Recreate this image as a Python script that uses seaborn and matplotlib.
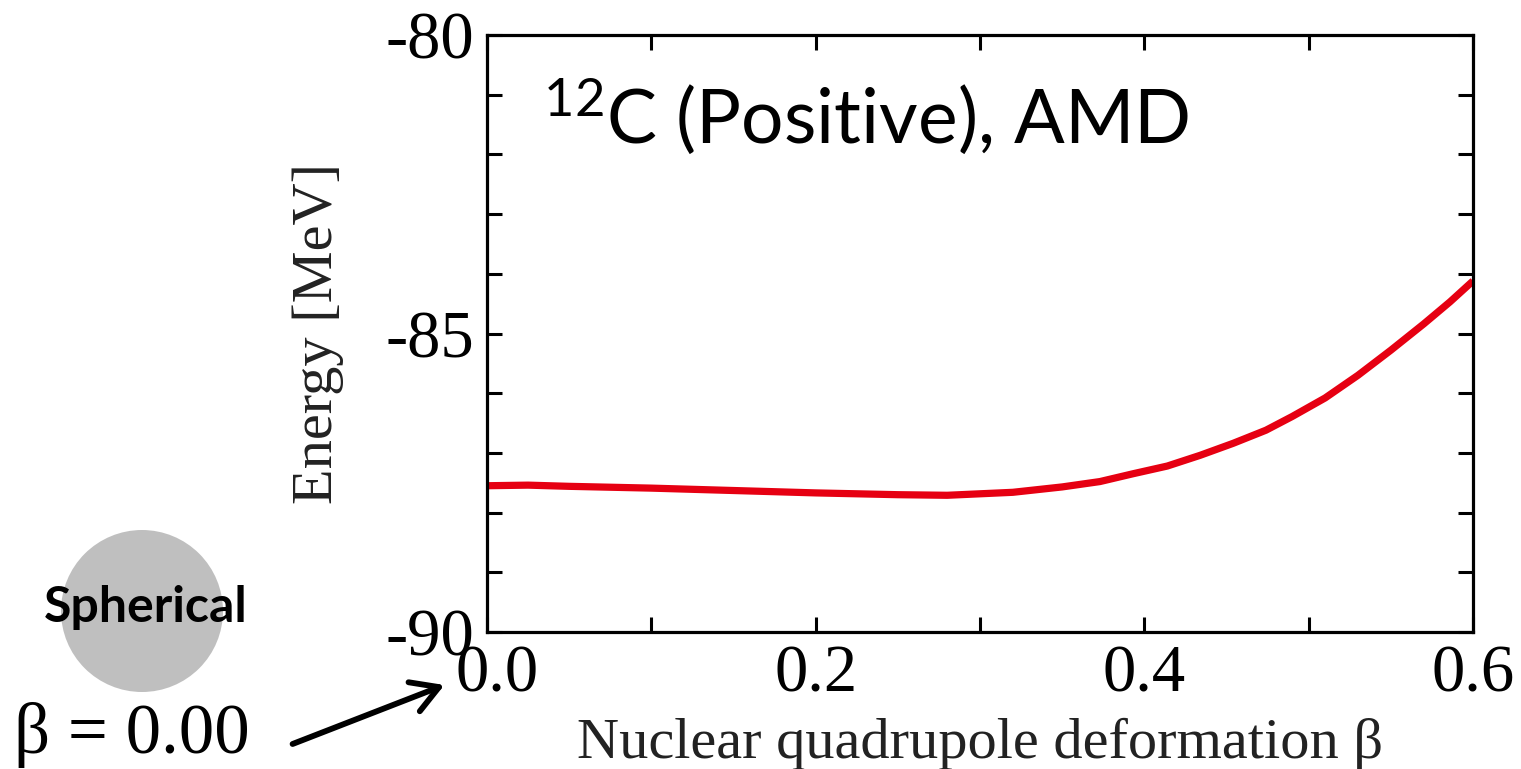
import numpy as np
import pandas as pd
import matplotlib
matplotlib.use("Agg")
import matplotlib.pyplot as plt
from matplotlib.ticker import MultipleLocator
from matplotlib.patches import Circle, FancyArrowPatch
from matplotlib.transforms import ScaledTranslation
import seaborn as sns

# ---- data ----
beta = [0.00, 0.025, 0.05, 0.10, 0.15, 0.20, 0.25, 0.28, 0.32, 0.35, 0.373,
        0.393, 0.414, 0.434, 0.454, 0.474, 0.49, 0.51, 0.53, 0.55, 0.57,
        0.586, 0.60]
energy = [-87.55, -87.54, -87.56, -87.59, -87.63, -87.67, -87.70, -87.71,
          -87.66, -87.57, -87.48, -87.35, -87.22, -87.04, -86.84, -86.62,
          -86.39, -86.08, -85.70, -85.28, -84.84, -84.47, -84.12]
x_ticks = [0.0, 0.2, 0.4, 0.6]
x_tick_labels = ["0.0", "0.2", "0.4", "0.6"]
y_ticks = [-90, -85, -80]
y_tick_labels = ["-90", "-85", "-80"]
title_text = "$^{12}$C (Positive), AMD"
x_label = "Nuclear quadrupole deformation β"
y_label = "Energy [MeV]"

df = pd.DataFrame({"beta": beta, "energy": energy})

sns.set_theme(style="ticks")
plt.rcParams["font.family"] = ["Liberation Serif", "DejaVu Serif"]
plt.rcParams["mathtext.default"] = "regular"

W, H = 1521, 769
fig = plt.figure(figsize=(W / 100, H / 100), dpi=100)
fig.patch.set_facecolor("white")
ax = fig.add_axes([487 / W, 1 - 632 / H, (1473 - 487) / W, (632 - 35) / H])
ax.set_facecolor("white")

sns.lineplot(data=df, x="beta", y="energy", ax=ax, color="#E60012",
             linewidth=5.2, solid_capstyle="butt", solid_joinstyle="round")

ax.set_xlim(0, 0.6)
ax.set_ylim(-90, -80)
ax.set_xticks(x_ticks)
ax.set_xticklabels(x_tick_labels)
ax.set_yticks(y_ticks)
ax.set_yticklabels(y_tick_labels)
ax.xaxis.set_minor_locator(MultipleLocator(0.1))
ax.yaxis.set_minor_locator(MultipleLocator(1))

for s in ax.spines.values():
    s.set_visible(True)
    s.set_linewidth(2.3)
    s.set_color("black")

ax.tick_params(which="both", direction="in", top=True, right=True,
               length=11, width=2.2, color="black")
ax.tick_params(axis="both", which="major", labelsize=48, pad=9,
               labelcolor="black")

# the "0.0" label sits slightly right of its tick in the reference
first = ax.get_xticklabels()[0]
first.set_transform(first.get_transform() +
                    ScaledTranslation(10 / 100, 0, fig.dpi_scale_trans))

ax.set_xlabel(x_label, fontsize=42, labelpad=9, color="#222222")
ax.set_ylabel(y_label, fontsize=42, labelpad=30, color="#222222")

ax.text(0.057, 0.819, title_text, transform=ax.transAxes, fontsize=54,
        family=["Lato", "DejaVu Sans"], va="baseline", ha="left",
        color="black")

# spherical nucleus illustration (figure pixel coordinates)
circ = Circle((142, H - 611), 81, transform=None, facecolor="#BFBFBF",
              edgecolor="none")
fig.patches.append(circ)
fig.text(146 / W, 1 - 608 / H, "Spherical", ha="center", va="center",
         fontsize=36, fontweight="bold", family=["Lato", "DejaVu Sans"],
         color="black")
fig.text(14 / W, 1 - 735 / H, "β = 0.00", ha="left", va="center",
         fontsize=51, family=["Liberation Serif", "DejaVu Serif"],
         color="black")
fig.add_artist(FancyArrowPatch(
    (290 / W, 1 - 745 / H), (447 / W, 1 - 684 / H),
    transform=fig.transFigure, arrowstyle="->,head_length=12,head_width=7",
    mutation_scale=1.6, linewidth=4.2, color="black"))

fig.savefig("out.png", dpi=100, facecolor="white")
